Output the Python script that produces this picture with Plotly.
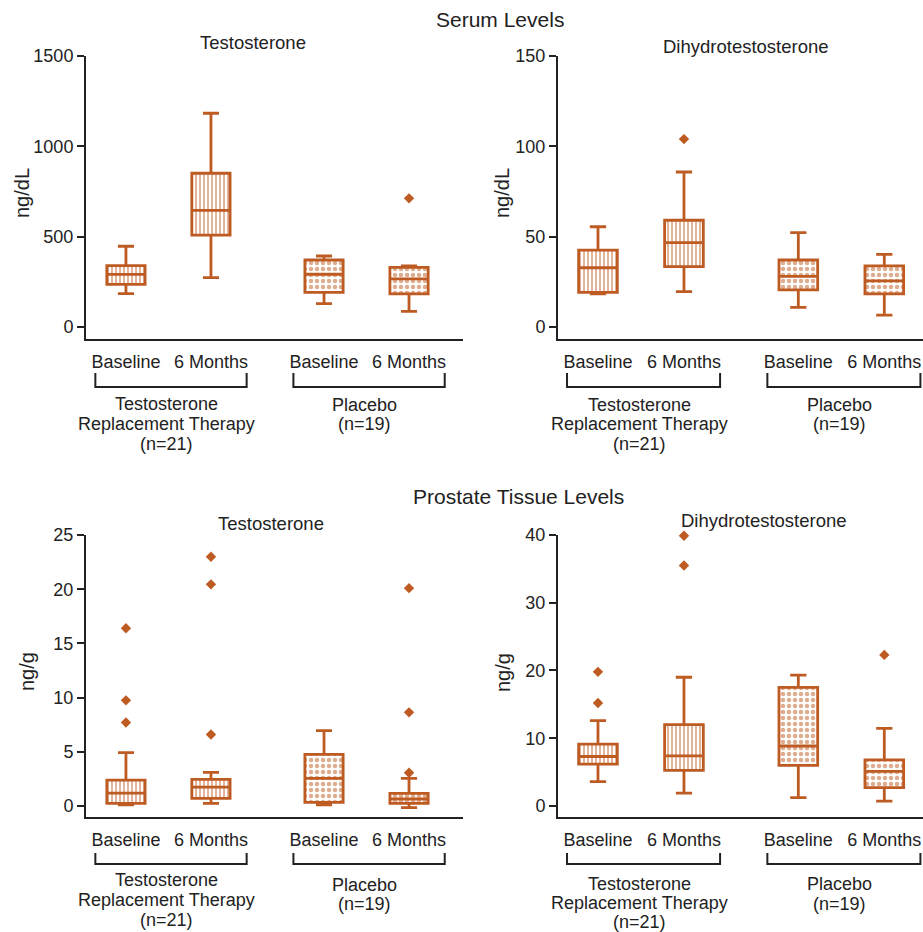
import plotly.graph_objects as go

W, H = 923, 932
C = "#BE5B22"
INK = "#222222"
FONT = "Liberation Sans, Arial, sans-serif"

categories = ["Baseline", "6 Months", "Baseline", "6 Months"]
groups = ["TRT", "TRT", "Placebo", "Placebo"]
group_labels = {"TRT": ["Testosterone", "Replacement Therapy", "(n=21)"],
                "Placebo": ["Placebo", "(n=19)"]}
positions = [0, 1, 2.33, 3.33]

# Serum testosterone (ng/dL)
serum_t_low = [185, 273, 129, 87]
serum_t_q1 = [236, 509, 192, 183]
serum_t_med = [291, 646, 292, 266]
serum_t_q3 = [340, 851, 371, 330]
serum_t_high = [447, 1183, 393, 338]
serum_t_out = [[], [], [], [712]]

# Serum DHT (ng/dL)
serum_d_low = [18.3, 19.6, 10.9, 6.6]
serum_d_q1 = [19.2, 33.4, 20.5, 18.3]
serum_d_med = [32.8, 46.7, 28.0, 25.5]
serum_d_q3 = [42.6, 59.1, 37.1, 33.8]
serum_d_high = [55.5, 85.8, 52.2, 40.2]
serum_d_out = [[], [104], [], []]

# Prostate tissue testosterone (ng/g)
tis_t_low = [0.1, 0.25, 0.1, -0.15]
tis_t_q1 = [0.25, 0.71, 0.34, 0.25]
tis_t_med = [1.2, 1.75, 2.55, 0.65]
tis_t_q3 = [2.4, 2.46, 4.77, 1.17]
tis_t_high = [4.92, 3.1, 6.95, 2.55]
tis_t_out = [[16.4, 9.75, 7.7], [23.0, 20.45, 6.6], [], [20.1, 8.64, 3.07]]

# Prostate tissue DHT (ng/g)
tis_d_low = [3.6, 1.88, 1.23, 0.7]
tis_d_q1 = [6.17, 5.24, 6.0, 2.7]
tis_d_med = [7.3, 7.4, 8.85, 5.1]
tis_d_q3 = [9.14, 12.0, 17.5, 6.8]
tis_d_high = [12.6, 19.0, 19.3, 11.45]
tis_d_out = [[19.8, 15.2], [39.9, 35.5], [], [22.3]]

panels = [
    dict(low=serum_t_low, q1=serum_t_q1, med=serum_t_med, q3=serum_t_q3, high=serum_t_high,
         out=serum_t_out, yrange=[-66.4, 1500], dtick=500, unit="ng/dL", title="Testosterone"),
    dict(low=serum_d_low, q1=serum_d_q1, med=serum_d_med, q3=serum_d_q3, high=serum_d_high,
         out=serum_d_out, yrange=[-6.64, 150], dtick=50, unit="ng/dL", title="Dihydrotestosterone"),
    dict(low=tis_t_low, q1=tis_t_q1, med=tis_t_med, q3=tis_t_q3, high=tis_t_high,
         out=tis_t_out, yrange=[-1.01, 25], dtick=5, unit="ng/g", title="Testosterone"),
    dict(low=tis_d_low, q1=tis_d_q1, med=tis_d_med, q3=tis_d_q3, high=tis_d_high,
         out=tis_d_out, yrange=[-1.63, 40], dtick=10, unit="ng/g", title="Dihydrotestosterone"),
]

def px_x(v):
    return v / W

def px_y(v):
    return 1 - v / H

# layout geometry (pixels)
geo = [
    dict(x0=86, x1=463, y0=56, y1=339, xr=[-0.47, 3.965]),
    dict(x0=558, x1=923, y0=56, y1=339, xr=[-0.465, 3.78]),
    dict(x0=86, x1=463, y0=535, y1=817, xr=[-0.47, 3.965]),
    dict(x0=558, x1=923, y0=535, y1=817, xr=[-0.465, 3.78]),
]
title_pos = [(253, 43), (746, 46), (271, 523), (764, 520)]
ytitle_pos = [(22, 193), (502, 193), (27, 672), (503, 673)]
bracket_y = [(373, 387), (373, 387), (853, 864), (853, 864)]
glabel_y = [
    {"TRT": [404, 424, 444], "Placebo": [405, 424]},
    {"TRT": [405, 424, 444], "Placebo": [405, 424]},
    {"TRT": [880, 900, 920], "Placebo": [885, 904]},
    {"TRT": [884, 903, 922], "Placebo": [884, 904]},
]

fig = go.Figure()
layout = dict(width=W, height=H, margin=dict(l=0, r=0, t=0, b=0, autoexpand=False),
              paper_bgcolor="white", plot_bgcolor="white", showlegend=False,
              font=dict(family=FONT, size=18, color=INK))
annotations = []
shapes = []

BOXW = 0.45
for i, (p, g) in enumerate(zip(panels, geo)):
    n = "" if i == 0 else str(i + 1)
    xa, ya = "x" + n, "y" + n
    layout["xaxis" + n] = dict(domain=[px_x(g["x0"]), px_x(g["x1"])], range=g["xr"],
                               anchor=ya, showline=True, linewidth=2, linecolor=INK,
                               showgrid=False, zeroline=False, ticks="", automargin=False,
                               tickvals=positions, ticktext=categories,
                               ticklabelstandoff=5,
                               tickfont=dict(size=18, color=INK, family=FONT))
    layout["yaxis" + n] = dict(domain=[px_y(g["y1"]), px_y(g["y0"])], range=p["yrange"],
                               anchor=xa, showline=True, linewidth=2, linecolor=INK,
                               showgrid=False, zeroline=False, ticks="outside", automargin=False,
                               ticklen=7, tickwidth=2, tickcolor=INK, dtick=p["dtick"],
                               tick0=0, tickfont=dict(size=18, color=INK, family=FONT))
    for j in range(4):
        shape = "|" if groups[j] == "TRT" else "."
        size = 4 if shape == "|" else 6
        sol = 0.45 if shape == "|" else 0.45
        fig.add_trace(go.Bar(x=[positions[j]], y=[p["q3"][j] - p["q1"][j]], base=[p["q1"][j]],
                             width=BOXW, xaxis=xa, yaxis=ya,
                             marker=dict(color="white", line=dict(width=0),
                                         pattern=dict(shape=shape, fgcolor=C, bgcolor="white",
                                                      size=size, solidity=sol, fillmode="overlay")),
                             hoverinfo="skip"))
        fig.add_trace(go.Box(x=[positions[j]], q1=[p["q1"][j]], median=[p["med"][j]],
                             q3=[p["q3"][j]], lowerfence=[p["low"][j]],
                             upperfence=[p["high"][j]], width=BOXW, whiskerwidth=0.42,
                             fillcolor="rgba(0,0,0,0)", line=dict(color=C, width=2.8),
                             boxpoints=False, xaxis=xa, yaxis=ya))
        if p["out"][j]:
            fig.add_trace(go.Scatter(x=[positions[j]] * len(p["out"][j]), y=p["out"][j],
                                     mode="markers", xaxis=xa, yaxis=ya, cliponaxis=False,
                                     marker=dict(symbol="diamond", size=8, color=C)))
    # panel subtitle
    tx, ty = title_pos[i]
    annotations.append(dict(text=p["title"], x=px_x(tx), y=px_y(ty), xref="paper", yref="paper",
                            showarrow=False, xanchor="center", yanchor="middle",
                            font=dict(size=18.5, color=INK)))
    yx, yy = ytitle_pos[i]
    annotations.append(dict(text=p["unit"], x=px_x(yx), y=px_y(yy), xref="paper", yref="paper",
                            showarrow=False, textangle=-90, xanchor="center", yanchor="middle",
                            font=dict(size=20, color=INK)))
    # brackets and group labels
    by0, by1 = bracket_y[i]
    for grp, (a, b) in (("TRT", (0, 1)), ("Placebo", (2, 3))):
        xl = positions[a] - 0.36
        xr = positions[b] + 0.42
        shapes.append(dict(type="path", xref=xa, yref="paper",
                           path=f"M {xl},{px_y(by0)} L {xl},{px_y(by1)} L {xr},{px_y(by1)} L {xr},{px_y(by0)}",
                           line=dict(color=INK, width=2)))
        xc = (positions[a] + positions[b]) / 2 - 0.02
        for line_txt, ly in zip(group_labels[grp], glabel_y[i][grp]):
            annotations.append(dict(text=line_txt, x=xc, y=px_y(ly), xref=xa, yref="paper",
                                    showarrow=False, xanchor="center", yanchor="middle",
                                    font=dict(size=18, color=INK)))

annotations.append(dict(text="Serum Levels", x=px_x(500), y=px_y(20), xref="paper", yref="paper",
                        showarrow=False, xanchor="center", yanchor="middle",
                        font=dict(size=21, color=INK)))
annotations.append(dict(text="Prostate Tissue Levels", x=px_x(518), y=px_y(497), xref="paper",
                        yref="paper", showarrow=False, xanchor="center", yanchor="middle",
                        font=dict(size=21, color=INK)))

layout["annotations"] = annotations
layout["shapes"] = shapes
layout["bargap"] = 0
fig.update_layout(**layout)

post = ("document.documentElement.style.margin='0';document.body.style.margin='0';"
        "document.body.style.padding='0';document.body.style.overflow='hidden';"
        "var g=document.getElementById('{plot_id}');g.style.position='absolute';"
        "g.style.left='0px';g.style.top='0px';")
fig.write_html("out.html", post_script=post, config={"displayModeBar": False})
